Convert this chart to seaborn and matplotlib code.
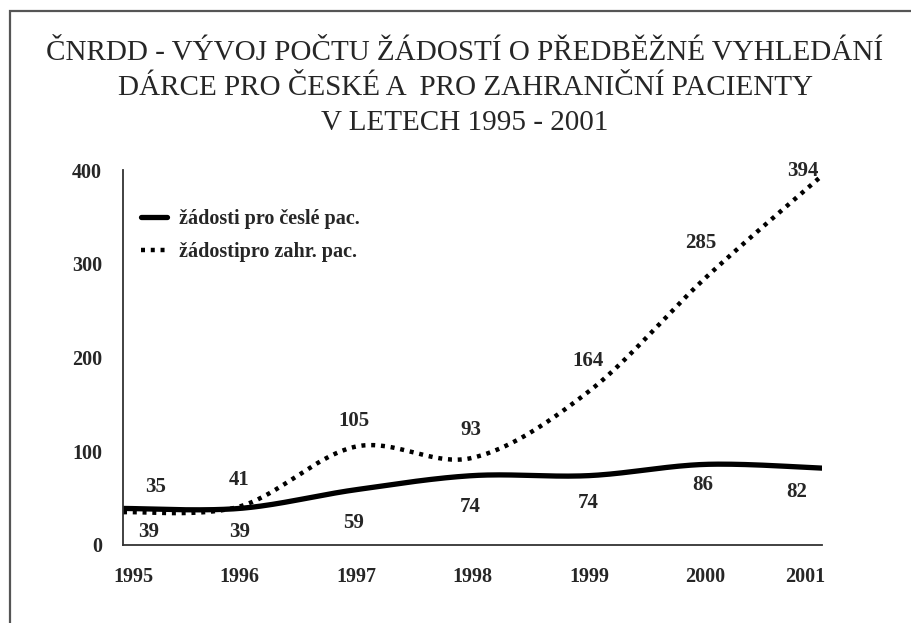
import numpy as np
import pandas as pd
import seaborn as sns
import matplotlib
matplotlib.use("Agg")
import matplotlib.pyplot as plt
from matplotlib.patches import Rectangle
from matplotlib.lines import Line2D
from matplotlib.transforms import ScaledTranslation

# ---- data ----
years = [1995, 1996, 1997, 1998, 1999, 2000, 2001]
cz_values = [39, 39, 59, 74, 74, 86, 82]            # žádosti pro české pac.
foreign_values = [35, 41, 105, 93, 164, 285, 394]    # žádosti pro zahr. pac.
series_names = ["žádosti pro česlé pac.", "žádostipro zahr. pac."]
y_ticks = [0, 100, 200, 300, 400]
title_text = ("ČNRDD - VÝVOJ POČTU ŽÁDOSTÍ O PŘEDBĚŽNÉ VYHLEDÁNÍ\n"
              "DÁRCE PRO ČESKÉ A  PRO ZAHRANIČNÍ PACIENTY\n"
              "V LETECH 1995 - 2001")

# label offsets (pixels) – style only
cz_off = [(26, -24), (0, -24), (-2, -33), (-2, -31), (-1, -27), (-3, -21), (-25, -24)]
fo_off = [(33, 25), (0, 27), (-2, 26), (-2, 28), (-1, 30), (-5, 35), (-19, 5)]


def smooth(xs, ys, n=40):
    """Excel-style smoothed line (Catmull-Rom / cubic Bezier rendering)."""
    xs = np.asarray(xs, float)
    ys = np.asarray(ys, float)
    P = np.column_stack([xs, ys])
    P = np.vstack([P[0], P, P[-1]])
    out = []
    t = np.linspace(0, 1, n)[:, None]
    for i in range(1, len(P) - 2):
        p0, p1, p2, p3 = P[i - 1], P[i], P[i + 1], P[i + 2]
        c1 = p1 + (p2 - p0) / 6.0
        c2 = p2 - (p3 - p1) / 6.0
        seg = ((1 - t) ** 3) * p1 + 3 * ((1 - t) ** 2) * t * c1 + 3 * (1 - t) * t ** 2 * c2 + t ** 3 * p2
        out.append(seg if i == 1 else seg[1:])
    arr = np.vstack(out)
    return arr[:, 0], arr[:, 1]


sns.set_theme(style="white")
plt.rcParams["font.family"] = ["Liberation Serif", "DejaVu Serif"]

fig = plt.figure(figsize=(9.11, 6.23), dpi=100)
ax = fig.add_axes([123 / 911, 1 - 545 / 623, (822 - 123) / 911, (545 - 170) / 623])

cx, cy = smooth(years, cz_values)
fx, fy = smooth(years, foreign_values)
df_cz = pd.DataFrame({"x": cx, "y": cy})
df_fo = pd.DataFrame({"x": fx, "y": fy})

sns.lineplot(data=df_fo, x="x", y="y", ax=ax, color="black", sort=False,
             linewidth=3.2, linestyle=(0, (0.9, 1.3)), estimator=None)
sns.lineplot(data=df_cz, x="x", y="y", ax=ax, color="black", sort=False,
             linewidth=3.8, estimator=None)

ax.set_xlim(years[0], years[-1])
ax.set_ylim(0, 400)
ax.set_yticks(y_ticks)
ax.set_yticklabels([str(v) for v in y_ticks])
ax.set_xticks(years)
ax.set_xticklabels([str(y) for y in years])
ax.set_xlabel("")
ax.set_ylabel("")
ax.tick_params(axis="both", length=0, labelsize=14.5)
ax.tick_params(axis="y", pad=15)
ax.tick_params(axis="x", pad=16)
for lab in ax.get_xticklabels() + ax.get_yticklabels():
    lab.set_fontweight("bold")
xl = ax.get_xticklabels()
xl[0].set_transform(xl[0].get_transform() + ScaledTranslation(10 / 100, 0, fig.dpi_scale_trans))
xl[-1].set_transform(xl[-1].get_transform() + ScaledTranslation(-17 / 100, 0, fig.dpi_scale_trans))

for s in ["top", "right"]:
    ax.spines[s].set_visible(False)
for s in ["left", "bottom"]:
    ax.spines[s].set_color("#333333")
    ax.spines[s].set_linewidth(1.3)

for x, v, off in zip(years, cz_values, cz_off):
    ax.annotate(str(v), (x, v), xytext=off, textcoords="offset pixels",
                ha="center", va="center", fontsize=15, fontweight="bold")
for x, v, off in zip(years, foreign_values, fo_off):
    ax.annotate(str(v), (x, v), xytext=off, textcoords="offset pixels",
                ha="center", va="center", fontsize=15, fontweight="bold")

handles = [Line2D([], [], color="black", linewidth=3.8),
           Line2D([], [], color="black", linewidth=3.2, linestyle=(0, (0.9, 1.3)))]
ax.legend(handles, series_names, loc="upper left", bbox_to_anchor=(0.0, 0.945),
          frameon=False, prop={"weight": "bold", "size": 14.5},
          handlelength=1.3, handletextpad=0.6, labelspacing=0.65)

fig.text(465 / 911, 1 - 88 / 623, title_text, ha="center", va="center",
         fontsize=21, linespacing=1.45)

fig.add_artist(Rectangle((9.5 / 911, -0.1), 1.2, 1 - 10.5 / 623 + 0.1,
                         transform=fig.transFigure, fill=False,
                         edgecolor="#555555", linewidth=1.6))

fig.savefig("out.png", dpi=100)
